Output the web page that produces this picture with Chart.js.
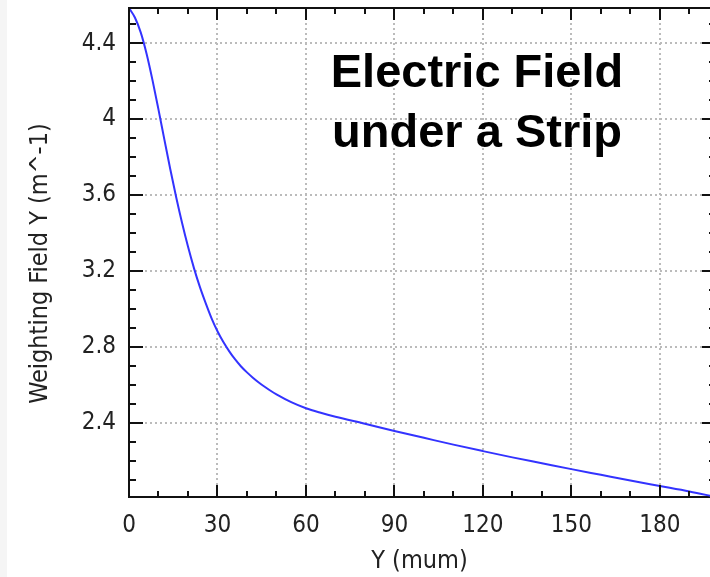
<!DOCTYPE html>
<html>
<head>
<meta charset="utf-8">
<script src="https://cdn.jsdelivr.net/npm/chart.js@4.4.1/dist/chart.umd.min.js"></script>
<style>
  html, body { margin: 0; padding: 0; background: #fff; }
  #wrap { width: 710px; height: 577px; }
</style>
</head>
<body>
<div id="wrap"><canvas id="weightingField"></canvas></div>
<script>
// depth below the strip (mum)
const yPosition = [0, 2, 4, 6, 8, 10, 12, 14, 16, 18, 20, 22, 24, 26, 28, 30, 32, 34, 36, 38, 40, 42, 44, 46, 48, 50,
  55, 60, 65, 70, 80, 90, 100, 110, 120, 130, 140, 150, 160, 170, 180, 190, 199];
// weighting field, Y component (m^-1)
const fieldY = [4.586, 4.536, 4.456, 4.342, 4.203, 4.05, 3.892, 3.736, 3.588, 3.452, 3.328, 3.216, 3.117, 3.03, 2.95,
  2.882, 2.825, 2.776, 2.733, 2.696, 2.665, 2.637, 2.612, 2.589, 2.568, 2.549, 2.508, 2.476, 2.452, 2.431, 2.394,
  2.356, 2.32, 2.284, 2.25, 2.217, 2.186, 2.155, 2.125, 2.095, 2.066, 2.037, 2.008];

// axis ranges and ticks; the frame closes at xFrameEdge, just past the visible range
const xRange = [0, 197];
const xFrameEdge = 199;
const yRange = [2.008, 4.586];
const xMajorTicks = [0, 30, 60, 90, 120, 150, 180];
const xMinorTicks = [10, 20, 40, 50, 70, 80, 100, 110, 130, 140, 160, 170, 190];
const yMajorTicks = [2.4, 2.8, 3.2, 3.6, 4.0, 4.4];
const yMinorTicks = [2.1, 2.2, 2.3, 2.5, 2.6, 2.7, 2.9, 3.0, 3.1, 3.3, 3.4, 3.5, 3.7, 3.8, 3.9, 4.1, 4.2, 4.3, 4.5];

const titleLines = ["Electric Field", "under a Strip"];
const yAxisTitle = "Weighting Field Y (m^-1)";

const axisFont = "'DejaVu Sans Condensed', 'DejaVu Sans', sans-serif";
const textColor = "#222";

// white page with the thin grey strip on the left
const pageBackground = {
  id: "pageBackground",
  beforeDraw(chart) {
    const ctx = chart.ctx;
    ctx.save();
    ctx.fillStyle = "#ffffff";
    ctx.fillRect(0, 0, chart.width, chart.height);
    ctx.fillStyle = "#f5f5f5";
    ctx.fillRect(0, 0, 7, chart.height);
    ctx.restore();
  },
};

// closed frame with inward ticks on all four sides
const frameTicks = {
  id: "frameTicks",
  afterDraw(chart) {
    const { ctx, chartArea: a, scales } = chart;
    const x = scales.x;
    const y = scales.y;
    const right = Math.round(x.getPixelForValue(xFrameEdge));
    ctx.save();
    ctx.strokeStyle = "#111";
    ctx.lineWidth = 2;
    ctx.beginPath();
    ctx.moveTo(a.left, a.top);
    ctx.lineTo(right, a.top);
    ctx.lineTo(right, a.bottom);
    ctx.stroke();

    ctx.beginPath();
    const xTick = (v, len) => {
      const px = Math.round(x.getPixelForValue(v));
      ctx.moveTo(px, a.bottom);
      ctx.lineTo(px, a.bottom - len);
      ctx.moveTo(px, a.top);
      ctx.lineTo(px, a.top + len);
    };
    const yTick = (v, len) => {
      const py = Math.round(y.getPixelForValue(v));
      ctx.moveTo(a.left, py);
      ctx.lineTo(a.left + len, py);
      ctx.moveTo(right, py);
      ctx.lineTo(right - len, py);
    };
    xMajorTicks.forEach((v) => xTick(v, 12));
    xMinorTicks.forEach((v) => xTick(v, 6));
    yMajorTicks.forEach((v) => yTick(v, 14));
    yMinorTicks.forEach((v) => yTick(v, 7));
    ctx.stroke();
    ctx.restore();
  },
};

// vertical axis title, sitting a little below the middle of the axis
const yTitle = {
  id: "yTitle",
  afterDraw(chart) {
    const { ctx, chartArea: a } = chart;
    ctx.save();
    ctx.translate(40, (a.top + a.bottom) / 2 + 11);
    ctx.rotate(-Math.PI / 2);
    ctx.fillStyle = textColor;
    ctx.font = "25px " + axisFont;
    ctx.textAlign = "center";
    ctx.textBaseline = "middle";
    ctx.fillText(yAxisTitle, 0, 0);
    ctx.restore();
  },
};

// big bold caption inside the plot
const plotCaption = {
  id: "plotCaption",
  afterDraw(chart) {
    const { ctx, chartArea: a } = chart;
    ctx.save();
    ctx.fillStyle = "#000";
    ctx.font = "bold 47px 'Liberation Sans', Arial, sans-serif";
    ctx.textAlign = "center";
    ctx.textBaseline = "alphabetic";
    titleLines.forEach((line, i) => {
      ctx.fillText(line, a.left + 348, a.top + 79 + i * 60);
    });
    ctx.restore();
  },
};

// no extra room for the end labels, the frame sits right at the layout padding
const noLabelOverhang = (scale) => {
  scale.paddingTop = 0;
  scale.paddingBottom = 0;
  scale.paddingLeft = 0;
  scale.paddingRight = 0;
};

const points = yPosition.map((v, i) => ({ x: v, y: fieldY[i] }));

const weightingFieldConfig = {
  type: "line",
  data: {
    datasets: [
      {
        label: "Weighting Field Y",
        data: points,
        borderColor: "#3333ff",
        borderWidth: 2,
        pointRadius: 0,
        cubicInterpolationMode: "monotone",
        fill: false,
      },
    ],
  },
  options: {
    responsive: true,
    maintainAspectRatio: false,
    animation: false,
    layout: {
      padding: { left: 0, top: 8, right: 0, bottom: 0 },
    },
    plugins: {
      legend: { display: false },
      tooltip: { enabled: false },
    },
    scales: {
      x: {
        type: "linear",
        min: xRange[0],
        max: xRange[1],
        afterBuildTicks: (scale) => {
          scale.ticks = xMajorTicks.map((v) => ({ value: v }));
        },
        afterFit: (scale) => {
          scale.height = 80;
          noLabelOverhang(scale);
        },
        ticks: {
          autoSkip: false,
          maxRotation: 0,
          padding: 14,
          color: textColor,
          font: { family: axisFont, size: 24 },
          callback: (v) => String(v),
        },
        grid: {
          color: "#bbbbbb",
          lineWidth: 2,
          drawTicks: false,
        },
        border: {
          color: "#111",
          width: 2,
          dash: [2, 3],
        },
        title: {
          display: true,
          text: "Y (mum)",
          color: textColor,
          font: { family: axisFont, size: 25 },
          padding: { top: 0, bottom: 1 },
        },
      },
      y: {
        type: "linear",
        min: yRange[0],
        max: yRange[1],
        afterBuildTicks: (scale) => {
          scale.ticks = yMajorTicks.map((v) => ({ value: v }));
        },
        afterFit: (scale) => {
          scale.width = 129;
          noLabelOverhang(scale);
        },
        ticks: {
          autoSkip: false,
          padding: 13,
          color: textColor,
          font: { family: axisFont, size: 24 },
          callback: (v) => String(v),
        },
        grid: {
          color: "#bbbbbb",
          lineWidth: 2,
          drawTicks: false,
        },
        border: {
          color: "#111",
          width: 2,
          dash: [2, 3],
        },
      },
    },
  },
  plugins: [pageBackground, frameTicks, yTitle, plotCaption],
};

const weightingFieldChart = new Chart(document.getElementById("weightingField"), weightingFieldConfig);
</script>
</body>
</html>
